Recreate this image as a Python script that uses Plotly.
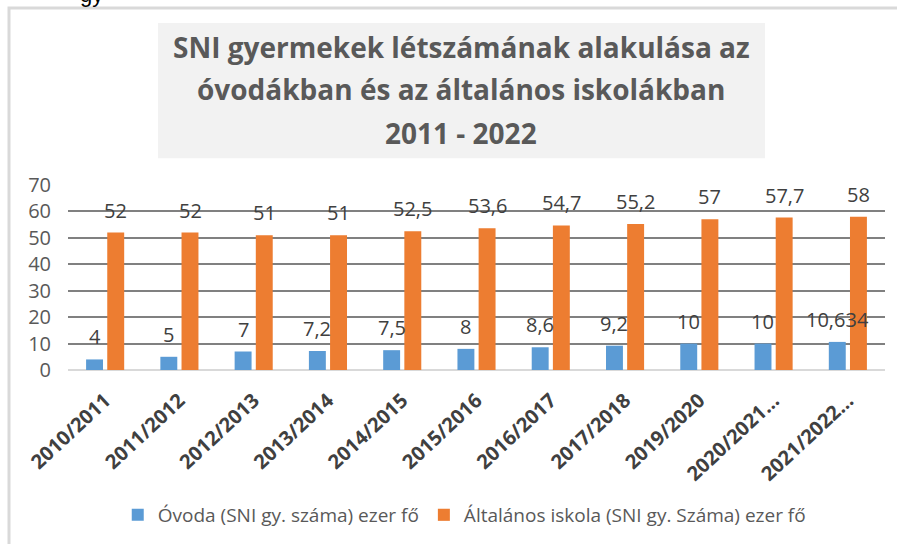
import plotly.graph_objects as go

categories = ["2010/2011", "2011/2012", "2012/2013", "2013/2014", "2014/2015",
              "2015/2016", "2016/2017", "2017/2018", "2019/2020",
              "2020/2021…", "2021/2022…"]
ovoda = [4, 5, 7, 7.2, 7.5, 8, 8.6, 9.2, 10, 10, 10.634]
iskola = [52, 52, 51, 51, 52.5, 53.6, 54.7, 55.2, 57, 57.7, 58]
y_ticks = [0, 10, 20, 30, 40, 50, 60, 70]

name_ovoda = "Óvoda (SNI gy. száma) ezer fő"
name_iskola = "Általános iskola (SNI gy. Száma) ezer fő"
title_lines = ["SNI gyermekek létszámának alakulása az",
               "óvodákban és az általános iskolákban",
               "2011 - 2022"]

BLUE = "#5b9bd5"
ORANGE = "#ed7d31"
FONT = "Open Sans"

W, H = 897, 544
ML, MR, MT, MB = 68, 12, 185, 173
PW = W - ML - MR
PH = H - MT - MB


def px(x):
    return (x - ML) / PW


def py(y):
    return (H - MB - y) / PH


def fmt(v):
    return ("%g" % v).replace(".", ",")


fig = go.Figure()
fig.add_trace(go.Bar(x=categories, y=ovoda, name=name_ovoda,
                     marker=dict(color=BLUE, line=dict(width=0))))
fig.add_trace(go.Bar(x=categories, y=iskola, name=name_iskola,
                     marker=dict(color=ORANGE, line=dict(width=0))))

annotations = []
# data labels
for i, c in enumerate(categories):
    annotations.append(dict(x=c, y=ovoda[i], xref="x", yref="y", text=fmt(ovoda[i]),
                            showarrow=False, yanchor="bottom", yshift=7, xshift=-10.6,
                            font=dict(family=FONT, size=20, color="#404040")))
    annotations.append(dict(x=c, y=iskola[i], xref="x", yref="y", text=fmt(iskola[i]),
                            showarrow=False, yanchor="bottom", yshift=7, xshift=10.6,
                            font=dict(family=FONT, size=20, color="#404040")))

# title lines
for line, yb in zip(title_lines, [59, 102, 146]):
    annotations.append(dict(x=px(461), y=py(yb), xref="paper", yref="paper",
                            text="<b>%s</b>" % line, showarrow=False,
                            xanchor="center", yanchor="bottom", yshift=-8,
                            font=dict(family=FONT, size=28, color="#595959")))

# cut-off text fragment above the chart
annotations.append(dict(x=px(78), y=py(-7), xref="paper", yref="paper", text="gy",
                        showarrow=False, xanchor="left", yanchor="middle",
                        font=dict(family="Liberation Sans", size=22, color="#000000")))

shapes = [
    dict(type="rect", xref="paper", yref="paper",
         x0=px(158), x1=px(765), y0=py(158), y1=py(22),
         fillcolor="#f2f2f2", line=dict(width=0), layer="below"),
    dict(type="rect", xref="paper", yref="paper",
         x0=px(9), x1=px(910), y0=py(560), y1=py(7),
         fillcolor="rgba(0,0,0,0)", line=dict(color="#d9d9d9", width=3)),
]

fig.update_layout(
    width=W, height=H,
    margin=dict(l=ML, r=MR, t=MT, b=MB, pad=0),
    paper_bgcolor="white", plot_bgcolor="white",
    barmode="group", bargap=0.43, bargroupgap=0.2,
    showlegend=True,
    legend=dict(orientation="h", x=0.485, xanchor="center", y=py(515), yanchor="middle",
                font=dict(family=FONT, size=19, color="#595959"),
                itemwidth=30, tracegroupgap=0),
    annotations=annotations,
    shapes=shapes,
    xaxis=dict(tickangle=-43, tickfont=dict(family=FONT, size=20, color="#404040"),
               tickprefix="<b>", ticksuffix="</b>", ticklabelstandoff=14,
               showline=False, showgrid=False, ticks="", fixedrange=True),
    yaxis=dict(range=[0, 70], tickvals=y_ticks, showgrid=True, gridcolor="#808080",
               gridwidth=2, zeroline=True, zerolinecolor="#d9d9d9", zerolinewidth=2,
               tickfont=dict(family=FONT, size=20, color="#595959"),
               ticks="", ticklabelstandoff=16, fixedrange=True),
)

fig.write_html("out.html", config={"displayModeBar": False},
               post_script="document.body.style.margin='0';")
